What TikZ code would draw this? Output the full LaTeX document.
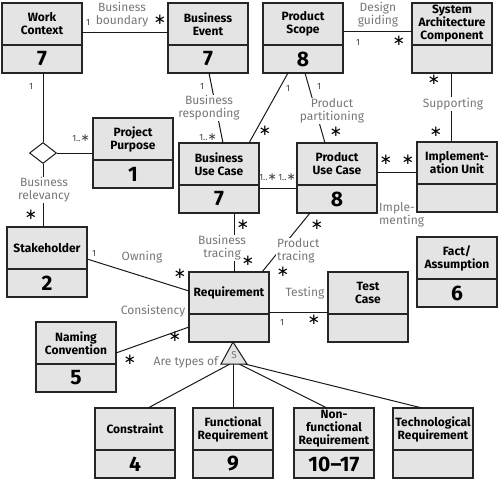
\documentclass[tikz,border=0pt]{standalone}
\usepackage{fontspec}
\setmainfont{Fira Sans}
\newfontfamily\symf{DejaVu Sans}
\usetikzlibrary{shapes.geometric,calc}
\definecolor{boxfill}{HTML}{E4E4E4}
\definecolor{lblgray}{HTML}{777777}
\tikzset{
  clsbox/.style={draw=black!85, line width=1.3pt, fill=boxfill, minimum width=80pt, minimum height=70pt, inner sep=0pt, outer sep=0pt},
  clsline/.style={draw=black!85, line width=1.3pt},
  clstitle/.style={font=\bfseries\fontsize{12}{13}\selectfont, align=center, inner sep=0pt},
  clsnum/.style={font=\bfseries\fontsize{21}{21}\selectfont, inner sep=0pt},
  conn/.style={draw=black!90, line width=1pt},
  lbl/.style={font=\fontsize{12}{13}\selectfont, text=lblgray, align=center, inner sep=1pt},
  lblw/.style={lbl, fill=white},
  mone/.style={font=\fontsize{9}{9}\selectfont, text=black!75, inner sep=0pt},
  mstar/.style={font=\symf\fontsize{15}{15}\selectfont, inner sep=0pt, anchor=mid},
  relnode/.style={shape=diamond, draw=black!90, line width=1pt, fill=white, minimum width=27pt, minimum height=21pt, inner sep=0pt},
  gentri/.style={draw=black!90, line width=1pt, fill=boxfill}
}
\newcommand\umlcls[5]{%
  \node[clsbox, anchor=north west] (#1) at (#2,#3) {};
  \draw[clsline] ($(#1.north west)+(0,42)$) -- ($(#1.north east)+(0,42)$);
  \node[clstitle] (#1-title) at ($(#1.north)+(0,21)$) {#4};
  \node[clsnum] (#1-num) at ($(#1.south)+(0,-14)$) {#5};
}
\newcommand\oneany{1..{\symf\fontsize{11}{11}\selectfont∗}}
\begin{document}
\begin{tikzpicture}[x=1pt,y=-1pt]
\useasboundingbox (0,0) rectangle (500,482);
% classes
\umlcls{WC}{2}{3}{Work\\Context}{7}
\umlcls{BE}{168}{3}{Business\\Event}{7}
\umlcls{PS}{263}{3}{Product\\Scope}{8}
\umlcls{SAC}{412}{3}{System\\Architecture\\Component}{}
\umlcls{PP}{93}{118}{Project\\Purpose}{1}
\umlcls{BUC}{179}{143}{Business\\Use Case}{7}
\umlcls{PUC}{297}{143}{Product\\Use Case}{8}
\umlcls{IU}{417}{142}{Implement-\\ation Unit}{}
\umlcls{SH}{7}{227}{Stakeholder}{2}
\umlcls{FA}{417}{237}{Fact/\\Assumption}{6}
\umlcls{REQ}{189}{272}{Requirement}{}
\umlcls{TC}{328}{272}{Test\\Case}{}
\umlcls{NC}{36}{322}{Naming\\Convention}{5}
\umlcls{CON}{95}{408}{Constraint}{4}
\umlcls{FR}{193}{408}{Functional\\Requirement}{9}
\umlcls{NFR}{294}{408}{Non-\\functional\\Requirement}{10–17}
\umlcls{TR}{393}{408}{Technological\\Requirement}{}
% diamond
\node[relnode] (dia) at (43,153) {};
% connectors
\draw[conn] ($(WC.north east)+(0,29)$) -- ($(BE.north west)+(0,29)$);
\draw[conn] ($(BE.south west)+(41,0)$) -- ($(BUC.north west)+(44,0)$);
\draw[conn] ($(WC.south west)+(41,0)$) -- (dia.north);
\draw[conn] (dia.east) -- (dia.east -| PP.west);
\draw[conn] (dia.south) -- (dia.south |- SH.north);
\draw[conn] ($(PS.north east)+(0,28)$) -- ($(SAC.north west)+(0,28)$);
\draw[conn] ($(PS.south west)+(25,0)$) -- ($(BUC.north west)+(70,0)$);
\draw[conn] ($(PS.south west)+(42,0)$) -- ($(PUC.north west)+(28,0)$);
\draw[conn] ($(SAC.south west)+(39,0)$) -- ($(IU.north west)+(34,0)$);
\draw[conn] ($(BUC.north east)+(0,45)$) -- ($(PUC.north west)+(0,45)$);
\draw[conn] ($(PUC.north east)+(0,29)$) -- ($(IU.north west)+(0,30)$);
\draw[conn] ($(BUC.south west)+(55,0)$) -- ($(REQ.north west)+(45,0)$);
\draw[conn] ($(PUC.south west)+(13,0)$) -- ($(REQ.north west)+(73,0)$);
\draw[conn] ($(SH.north east)+(0,32)$) -- ($(REQ.north west)+(0,19)$);
\draw[conn] ($(NC.north east)+(0,31)$) -- ($(REQ.north west)+(0,55)$);
\draw[conn] ($(REQ.north east)+(0,40)$) -- ($(TC.north west)+(0,40)$);
% generalization
\coordinate (gtop) at ($(REQ.south west)+(44,0)$);
\coordinate (gl) at ($(gtop)+(-12,22)$);
\coordinate (gr) at ($(gtop)+(14,22)$);
\coordinate (g1) at ($(gtop)+(-3,22)$);
\coordinate (g2) at ($(gtop)+(0,22)$);
\coordinate (g3) at ($(gtop)+(6,22)$);
\coordinate (g4) at ($(gtop)+(12,22)$);
\draw[conn] (g1) -- ($(CON.north west)+(53,0)$);
\draw[conn] (g2) -- ($(FR.north west)+(40,0)$);
\draw[conn] (g3) -- ($(NFR.north west)+(33,0)$);
\draw[conn] (g4) -- ($(TR.north west)+(29,0)$);
\draw[gentri] (gtop) -- (gl) -- (gr) -- cycle;
\node[lbl, font=\fontsize{10}{10}\selectfont] (gS) at ($(gtop)+(1,13)$) {S};
% labels
\node[lbl] (l1) at (122,15) {Business\\boundary};
\node[lblw] (l2) at (209,108) {Business\\responding};
\node[lblw] (l3) at (44,190) {Business\\relevancy};
\node[lbl] (l4) at (378,15) {Design\\guiding};
\node[lblw] (l5) at (332,111) {Product\\partitioning};
\node[lblw] (l6) at (453,104) {Supporting};
\node[lbl, align=left, anchor=west] (l7) at (378,215) {Imple-\\menting};
\node[lblw] (l8) at (222,248) {Business\\tracing};
\node[lblw, align=left, anchor=west] (l9) at (276,251) {Product\\tracing};
\node[lbl] (l10) at (142,257) {Owning};
\node[lbl] (l11) at (153,311) {Consistency};
\node[lbl] (l12) at (305,293) {Testing};
\node[lbl] (l13) at (186,362) {Are types of};
% multiplicities
\node[mone] (n1) at (88,22) {1};
\node[mone] (n2) at (202,86) {1};
\node[mone] (n3) at (208,137) {\oneany};
\node[mone] (n4) at (31,86) {1};
\node[mone] (n5) at (81,138) {\oneany};
\node[mone] (n6) at (358,42) {1};
\node[mone] (n7) at (288,88) {1};
\node[mone] (n8) at (319,86) {1};
\node[mone] (n9) at (268,177) {\oneany};
\node[mone] (n10) at (287,177) {\oneany};
\node[mone] (n11) at (94,253) {1};
\node[mone] (n12) at (282,322) {1};
% asterisks
\node[mstar] (s1) at (160,22) {∗};
\node[mstar] (s2) at (31,217) {∗};
\node[mstar] (s3) at (399,43) {∗};
\node[mstar] (s4) at (265,133) {∗};
\node[mstar] (s5) at (336,134) {∗};
\node[mstar] (s6) at (434,82) {∗};
\node[mstar] (s7) at (436,134) {∗};
\node[mstar] (s8) at (386,162) {∗};
\node[mstar] (s9) at (408,162) {∗};
\node[mstar] (s10) at (243,227) {∗};
\node[mstar] (s11) at (248,263) {∗};
\node[mstar] (s12) at (317,227) {∗};
\node[mstar] (s13) at (283,274) {∗};
\node[mstar] (s14) at (180,276) {∗};
\node[mstar] (s15) at (175,339) {∗};
\node[mstar] (s16) at (130,362) {∗};
\node[mstar] (s17) at (314,322) {∗};
\end{tikzpicture}
\end{document}
